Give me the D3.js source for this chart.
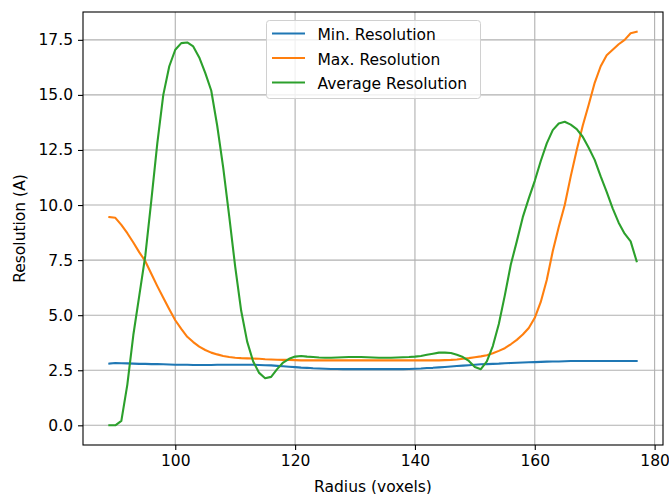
<!DOCTYPE html>
<html>
<head>
<meta charset="utf-8">
<script src="https://cdn.jsdelivr.net/npm/d3@7"></script>
<style>
  html,body{margin:0;padding:0;background:#fff;}
  svg{display:block;font-family:"DejaVu Sans",sans-serif;}
</style>
</head>
<body>
<div id="chart"></div>
<script>
/* resolution vs radius — three line series, matplotlib look */

/* ---------- DATA ---------- */
const RADIUS=[
   89, 90, 91, 92, 93, 94, 95, 96, 97, 98,
   99,100,101,102,103,104,105,106,107,108,
  109,110,111,112,113,114,115,116,117,118,
  119,120,121,122,123,124,125,126,127,128,
  129,130,131,132,133,134,135,136,137,138,
  139,140,141,142,143,144,145,146,147,148,
  149,150,151,152,153,154,155,156,157,158,
  159,160,161,162,163,164,165,166,167,168,
  169,170,171,172,173,174,175,176,177];

const MIN_RES=[
  2.80,2.83,2.82,2.81,2.80,2.79,2.79,2.78,2.78,2.77,
  2.76,2.75,2.75,2.75,2.74,2.74,2.74,2.74,2.75,2.75,
  2.75,2.75,2.75,2.75,2.75,2.74,2.73,2.72,2.70,2.68,
  2.66,2.64,2.62,2.61,2.59,2.58,2.57,2.56,2.56,2.55,
  2.55,2.55,2.55,2.55,2.55,2.55,2.55,2.55,2.55,2.55,
  2.56,2.57,2.58,2.60,2.61,2.63,2.65,2.67,2.69,2.71,
  2.73,2.75,2.77,2.78,2.79,2.80,2.82,2.83,2.84,2.85,
  2.86,2.87,2.88,2.89,2.90,2.90,2.91,2.92,2.92,2.92,
  2.92,2.92,2.92,2.92,2.92,2.92,2.92,2.92,2.92];

const MAX_RES=[
  9.45,9.42,9.10,8.72,8.30,7.85,7.45,6.88,6.32,5.79,
  5.27,4.77,4.38,4.02,3.78,3.57,3.42,3.30,3.22,3.15,
  3.10,3.07,3.05,3.04,3.03,3.02,3.00,2.99,2.98,2.97,
  2.97,2.96,2.95,2.95,2.95,2.95,2.95,2.95,2.95,2.95,
  2.95,2.95,2.95,2.95,2.95,2.95,2.95,2.95,2.95,2.95,
  2.95,2.95,2.95,2.95,2.95,2.95,2.96,2.97,2.99,3.02,
  3.05,3.09,3.13,3.18,3.27,3.38,3.50,3.68,3.88,4.12,
  4.42,4.88,5.60,6.60,7.90,9.00,10.00,11.30,12.50,13.60,
  14.55,15.55,16.30,16.80,17.05,17.30,17.50,17.80,17.87];

const AVG_RES=[
  0.00,0.00,0.20,1.85,4.10,5.90,7.70,10.20,12.80,15.00,
  16.30,17.05,17.35,17.38,17.20,16.70,16.00,15.20,13.60,11.70,
  9.50,7.20,5.20,3.80,2.90,2.38,2.14,2.20,2.55,2.85,
  3.02,3.12,3.15,3.12,3.10,3.08,3.07,3.07,3.08,3.09,
  3.10,3.10,3.10,3.09,3.08,3.07,3.07,3.07,3.08,3.09,
  3.10,3.12,3.15,3.20,3.25,3.30,3.30,3.28,3.20,3.10,
  2.92,2.65,2.55,2.90,3.60,4.60,5.90,7.30,8.35,9.45,
  10.30,11.10,12.00,12.80,13.40,13.70,13.78,13.65,13.45,13.10,
  12.60,12.05,11.30,10.60,9.85,9.20,8.70,8.35,7.45];

const SERIES_NAMES=["Min. Resolution","Max. Resolution","Average Resolution"];
const SERIES_COLORS=["#1f77b4","#ff7f0e","#2ca02c"];
const X_TICKS=[100,120,140,160,180];
const Y_TICKS=[0,2.5,5,7.5,10,12.5,15,17.5];
const X_LABEL="Radius (voxels)", Y_LABEL="Resolution (A)";

/* ---------- LAYOUT ---------- */
const W=669, H=494;
const M={top:12,right:6,bottom:49,left:83};
const IW=W-M.left-M.right, IH=H-M.top-M.bottom;
const FS=15.5;

const series=[MIN_RES,MAX_RES,AVG_RES].map((vals,i)=>({
  name:SERIES_NAMES[i], color:SERIES_COLORS[i],
  pts:RADIUS.map((r,j)=>[r,vals[j]])
}));

/* matplotlib style 5% margins */
const xExt=d3.extent(RADIUS);
const yExt=d3.extent(series.flatMap(s=>s.pts.map(p=>p[1])));
const xPad=(xExt[1]-xExt[0])*0.05, yPad=(yExt[1]-yExt[0])*0.05;

const x=d3.scaleLinear().domain([xExt[0]-xPad,xExt[1]+xPad]).range([0,IW]);
const y=d3.scaleLinear().domain([yExt[0]-yPad,yExt[1]+yPad]).range([IH,0]);

const svg=d3.select("#chart").append("svg").attr("width",W).attr("height",H);
const g=svg.append("g").attr("transform",`translate(${M.left},${M.top})`);

/* grid */
g.append("g").selectAll("line").data(X_TICKS).enter().append("line")
  .attr("x1",d=>x(d)).attr("x2",d=>x(d)).attr("y1",0).attr("y2",IH)
  .attr("stroke","#b0b0b0").attr("stroke-width",1.1);
g.append("g").selectAll("line").data(Y_TICKS).enter().append("line")
  .attr("y1",d=>y(d)).attr("y2",d=>y(d)).attr("x1",0).attr("x2",IW)
  .attr("stroke","#b0b0b0").attr("stroke-width",1.1);

/* lines */
const line=d3.line().x(d=>x(d[0])).y(d=>y(d[1]));
g.append("g").attr("clip-path",null).selectAll("path").data(series).enter().append("path")
  .attr("d",d=>line(d.pts)).attr("fill","none")
  .attr("stroke",d=>d.color).attr("stroke-width",2.1)
  .attr("stroke-linejoin","round").attr("stroke-linecap","square");

/* axes */
const xAx=g.append("g").attr("transform",`translate(0,${IH})`)
  .call(d3.axisBottom(x).tickValues(X_TICKS).tickFormat(d3.format("d")).tickSize(5).tickPadding(5));
const yAx=g.append("g")
  .call(d3.axisLeft(y).tickValues(Y_TICKS).tickFormat(d3.format(".1f")).tickSize(5).tickPadding(5));
[xAx,yAx].forEach(a=>{
  a.select(".domain").remove();
  a.selectAll("line").attr("stroke","#000").attr("stroke-width",1.1);
  a.selectAll("text").attr("fill","#000").style("font-size",FS+"px")
    .style("font-family","'DejaVu Sans',sans-serif");
});

/* frame */
g.append("rect").attr("width",IW).attr("height",IH)
  .attr("fill","none").attr("stroke","#000").attr("stroke-width",1.1);

/* labels */
svg.append("text").attr("x",M.left+IW/2).attr("y",H-2.5)
  .attr("text-anchor","middle").style("font-size",FS+"px").text(X_LABEL);
svg.append("text")
  .attr("transform",`translate(25,${M.top+IH/2}) rotate(-90)`)
  .attr("text-anchor","middle").style("font-size",FS+"px").text(Y_LABEL);

/* legend */
const lg=svg.append("g").attr("transform","translate(266.5,20.5)");
lg.append("rect").attr("width",214).attr("height",78).attr("rx",3)
  .attr("fill","#fff").attr("fill-opacity",0.8)
  .attr("stroke","#d0d0d0").attr("stroke-width",1);
series.forEach((s,i)=>{
  const ly=13+i*24.5;
  lg.append("line").attr("x1",5.5).attr("x2",38.5).attr("y1",ly).attr("y2",ly)
    .attr("stroke",s.color).attr("stroke-width",2.1);
  lg.append("text").attr("x",51).attr("y",ly+6.8)
    .style("font-size",FS+"px").attr("fill","#000").text(s.name);
});
</script>
</body>
</html>
